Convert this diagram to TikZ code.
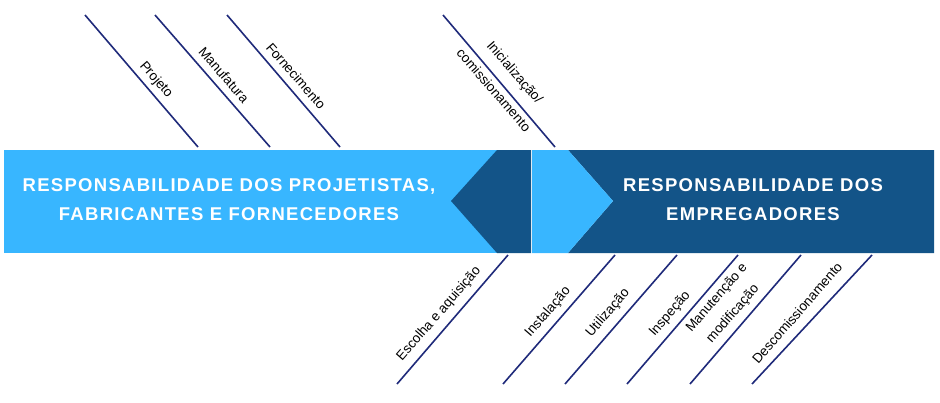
\documentclass[tikz,border=0pt]{standalone}
\usepackage{fontspec}
\setmainfont{Liberation Sans}
\newfontfamily\titlefont[LetterSpace=7]{Liberation Sans Bold}
\definecolor{lightb}{HTML}{38B6FF}
\definecolor{darkb}{HTML}{135488}
\definecolor{navy}{HTML}{1F2A7A}
\begin{document}
\begin{tikzpicture}[x=1pt,y=-1pt,
  ln/.style={navy,line width=1.6pt},
  lab/.style={font=\fontsize{13.5}{15}\selectfont,inner sep=0pt},
  ttl/.style={white,font=\titlefont\fontsize{18.5}{29}\selectfont,align=center,inner sep=0pt}]
\useasboundingbox (0,0) rectangle (940,402);
% band
\fill[lightb] (4,150) rectangle (531,253);
\fill[darkb] (497,150) -- (451,201) -- (497,253) -- (531,253) -- (531,150) -- cycle;
\fill[darkb] (568,150) -- (613,201) -- (568,253) -- (934,253) -- (934,150) -- cycle;
\fill[lightb] (532,150) -- (568,150) -- (613,201) -- (568,253) -- (532,253) -- cycle;
\node[ttl] (t1) at (229,200) {RESPONSABILIDADE DOS PROJETISTAS,\\FABRICANTES E FORNECEDORES};
\node[ttl] (t2) at (753,200) {RESPONSABILIDADE DOS\\EMPREGADORES};
% top lines
\foreach \n/\a/\b in {p/85/198,m/155/270,f/227/340,i/443/555}{
  \coordinate (\n1) at (\a,15); \coordinate (\n2) at (\b,147);
  \draw[ln] (\n1) -- (\n2);}
\node[lab,rotate=-49] (lp) at (156,80) {Projeto};
\node[lab,rotate=-49] (lm) at (224,75) {Manufatura};
\node[lab,rotate=-49] (lf) at (296,76) {Fornecimento};
\node[lab,rotate=-49] (li) at (514,73) {Inicialização/};
\node[lab,rotate=-49] (li2) at (494,90) {comissionamento};
% bottom lines
\foreach \n/\a/\b in {e/508/397,s/615/503,u/677/565,n/738/627,d/801/690,c/872/752}{
  \coordinate (\n1) at (\a,255); \coordinate (\n2) at (\b,384);
  \draw[ln] (\n1) -- (\n2);}
\node[lab,rotate=49] (le) at (439,314) {Escolha e aquisição};
\node[lab,rotate=49] (ls) at (548,312) {Instalação};
\node[lab,rotate=49] (lu) at (608,313) {Utilização};
\node[lab,rotate=49] (ln) at (670,314) {Inspeção};
\node[lab,rotate=49] (ld) at (717,298) {Manutenção e};
\node[lab,rotate=49] (ld2) at (733,314) {modificação};
\node[lab,rotate=49] (lc) at (797,313) {Descomissionamento};
\end{tikzpicture}
\end{document}
